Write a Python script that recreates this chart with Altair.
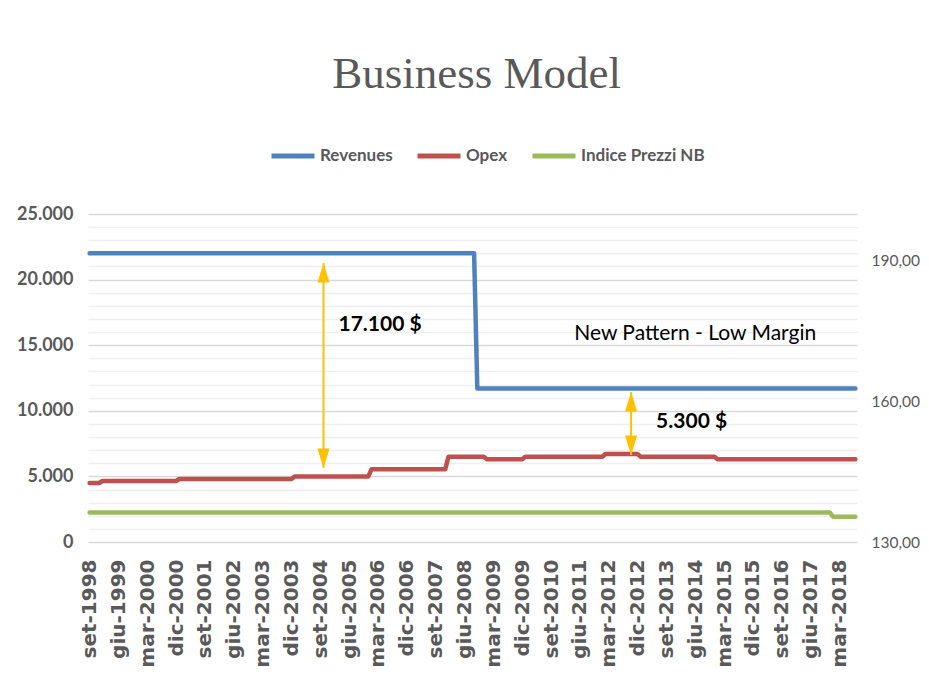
import altair as alt
import pandas as pd

# ---- categories: monthly, set-1998 .. ago-2018 ----
MONTH_ABBR = ["gen", "feb", "mar", "apr", "mag", "giu", "lug", "ago", "set", "ott", "nov", "dic"]
months = [f"{MONTH_ABBR[(8 + k) % 12]}-{1998 + (8 + k) // 12}" for k in range(240)]

tick_labels = ["set-1998", "giu-1999", "mar-2000", "dic-2000", "set-2001", "giu-2002", "mar-2003",
               "dic-2003", "set-2004", "giu-2005", "mar-2006", "dic-2006", "set-2007", "giu-2008",
               "mar-2009", "dic-2009", "set-2010", "giu-2011", "mar-2012", "dic-2012", "set-2013",
               "giu-2014", "mar-2015", "dic-2015", "set-2016", "giu-2017", "mar-2018"]

series_names = ["Revenues", "Opex", "Indice Prezzi NB"]
series_colors = ["#4F81BD", "#C0504D", "#9BBB59"]

# ---- series (month index, value) at the break points of each step ----
rev_idx = [0, 120, 121, 239]
rev_val = [22000, 22000, 11700, 11700]

opex_idx = [0, 3, 4, 27, 28, 63, 64, 87, 88, 111, 112, 123, 124, 135, 136, 160, 161, 171, 172, 195, 196, 239]
opex_val = [4500, 4500, 4650, 4650, 4800, 4800, 5000, 5000, 5550, 5550, 6500, 6500, 6300, 6300,
            6500, 6500, 6700, 6700, 6500, 6500, 6300, 6300]

price_idx = [0, 231, 232, 239]
price_val = [136.3, 136.3, 135.4, 135.4]

# ---- annotations ----
arrow_months = ["ott-2004", "ott-2012"]
arrow_top = [21270, 11430]
arrow_bottom = [5640, 6630]
margin_labels = ["17.100 $", "5.300 $"]
margin_label_values = [16550, 9170]
pattern_text = ["New Pattern - Low Margin"]
pattern_month = ["giu-2014"]
pattern_value = [15850]

GRAY = "#595959"
ORANGE = "#FFC000"
SANS = "Lato, Roboto, sans-serif"

left_df = pd.DataFrame(
    [{"month": months[i], "value": v, "series": "Revenues", "order": n} for n, (i, v) in enumerate(zip(rev_idx, rev_val))]
    + [{"month": months[i], "value": v, "series": "Opex", "order": n} for n, (i, v) in enumerate(zip(opex_idx, opex_val))]
)
right_df = pd.DataFrame(
    [{"month": months[i], "value": v, "series": "Indice Prezzi NB", "order": n} for n, (i, v) in enumerate(zip(price_idx, price_val))]
)
arrow_df = pd.DataFrame({"month": arrow_months, "top": arrow_top, "bottom": arrow_bottom})
label_df = pd.DataFrame({"month": arrow_months, "value": margin_label_values, "text": margin_labels})
pattern_df = pd.DataFrame({"month": pattern_month, "value": pattern_value, "text": pattern_text})

x_enc = alt.X(
    "month:O",
    scale=alt.Scale(type="point", domain=months, padding=0.5),
    axis=alt.Axis(
        values=tick_labels, labelAngle=-90, labelFont="DejaVu Sans", labelFontWeight="bold",
        labelFontSize=20, labelColor=GRAY, labelPadding=17, ticks=False, domain=False,
        grid=False, labelOverlap=False, labelBaseline="middle", labelAlign="right",
    ),
    title=None,
)

left_scale = alt.Scale(domain=[0, 25000], nice=False, zero=True)
left_axis = alt.Axis(
    values=list(range(0, 25001, 1000)),
    labelExpr="datum.value % 5000 === 0 ? replace(format(datum.value, ','), ',', '.') : ''",
    gridColor={"condition": {"test": "datum.value % 5000 === 0", "value": "#d9d9d9"}, "value": "#efefef"},
    gridWidth=1.3, ticks=False, domain=False, labelOverlap=False, labelFlush=False,
    labelFont=SANS, labelFontWeight="bold", labelFontSize=18, labelColor=GRAY, labelPadding=15,
)


def y_left(field):
    return alt.Y(field, scale=left_scale, axis=left_axis, title=None)


y_right = alt.Y(
    "value:Q",
    scale=alt.Scale(domain=[130, 200], nice=False, zero=False),
    axis=alt.Axis(
        orient="right", values=[130, 160, 190],
        labelExpr="replace(format(datum.value, '.2f'), '.', ',')",
        grid=False, ticks=False, domain=False, labelFlush=False,
        labelFont=SANS, labelFontSize=15.5, labelColor=GRAY, labelPadding=14,
    ),
    title=None,
)

color_scale = alt.Scale(domain=series_names, range=series_colors)
color_enc = alt.Color(
    "series:N",
    scale=color_scale,
    legend=alt.Legend(
        orient="none", legendX=181, legendY=-82, direction="horizontal", title=None,
        symbolType="stroke", symbolSize=1849, symbolStrokeWidth=5, labelFont=SANS,
        labelFontWeight="bold", labelFontSize=17, labelColor=GRAY, labelOffset=3,
        columnPadding=14, padding=0, labelLimit=300,
    ),
)

lines_left = alt.Chart(left_df).mark_line(strokeWidth=4.5, strokeJoin="round", strokeCap="round").encode(
    x=x_enc, y=y_left("value:Q"), color=color_enc, order="order:Q"
)

arrow_rules = alt.Chart(arrow_df).mark_rule(color=ORANGE, strokeWidth=2).encode(
    x=x_enc, y=y_left("top:Q"), y2="bottom:Q"
)
heads_up = alt.Chart(arrow_df).mark_point(
    shape="M0,0L0.62,2L-0.62,2Z", size=380, filled=True, color=ORANGE, opacity=1, strokeWidth=0
).encode(x=x_enc, y=y_left("top:Q"))
heads_down = alt.Chart(arrow_df).mark_point(
    shape="M0,0L0.62,-2L-0.62,-2Z", size=380, filled=True, color=ORANGE, opacity=1, strokeWidth=0
).encode(x=x_enc, y=y_left("bottom:Q"))

margin_text1 = alt.Chart(label_df.iloc[[0]]).mark_text(
    align="left", baseline="middle", font=SANS, fontWeight="bold", fontSize=21, color="#000000", dx=15
).encode(x=x_enc, y=y_left("value:Q"), text="text:N")
margin_text2 = alt.Chart(label_df.iloc[[1]]).mark_text(
    align="left", baseline="middle", font=SANS, fontWeight="bold", fontSize=21, color="#000000", dx=25
).encode(x=x_enc, y=y_left("value:Q"), text="text:N")

pattern = alt.Chart(pattern_df).mark_text(
    align="center", baseline="middle", font=SANS, fontSize=21, color="#000000"
).encode(x=x_enc, y=y_left("value:Q"), text="text:N")

left = alt.layer(lines_left, arrow_rules, heads_up, heads_down, margin_text1, margin_text2, pattern)

lines_right = alt.Chart(right_df).mark_line(strokeWidth=4.5, strokeJoin="round", strokeCap="round").encode(
    x=x_enc, y=y_right, color=alt.Color("series:N", scale=color_scale),
    order="order:Q",
)

chart = alt.layer(left, lines_right).resolve_scale(y="independent").properties(
    width=769,
    height=328,
    padding={"left": 80, "top": 206, "right": 64, "bottom": 138},
    autosize=alt.AutoSizeParams(type="none"),
    background="white",
    title=alt.TitleParams(
        "Business Model", font="Liberation Serif", fontSize=45, fontWeight="normal", color=GRAY,
        anchor="middle", offset=35, dx=4,
    ),
).configure_view(stroke=None)

chart.save("out.html", embed_options={"renderer": "svg", "actions": False})
